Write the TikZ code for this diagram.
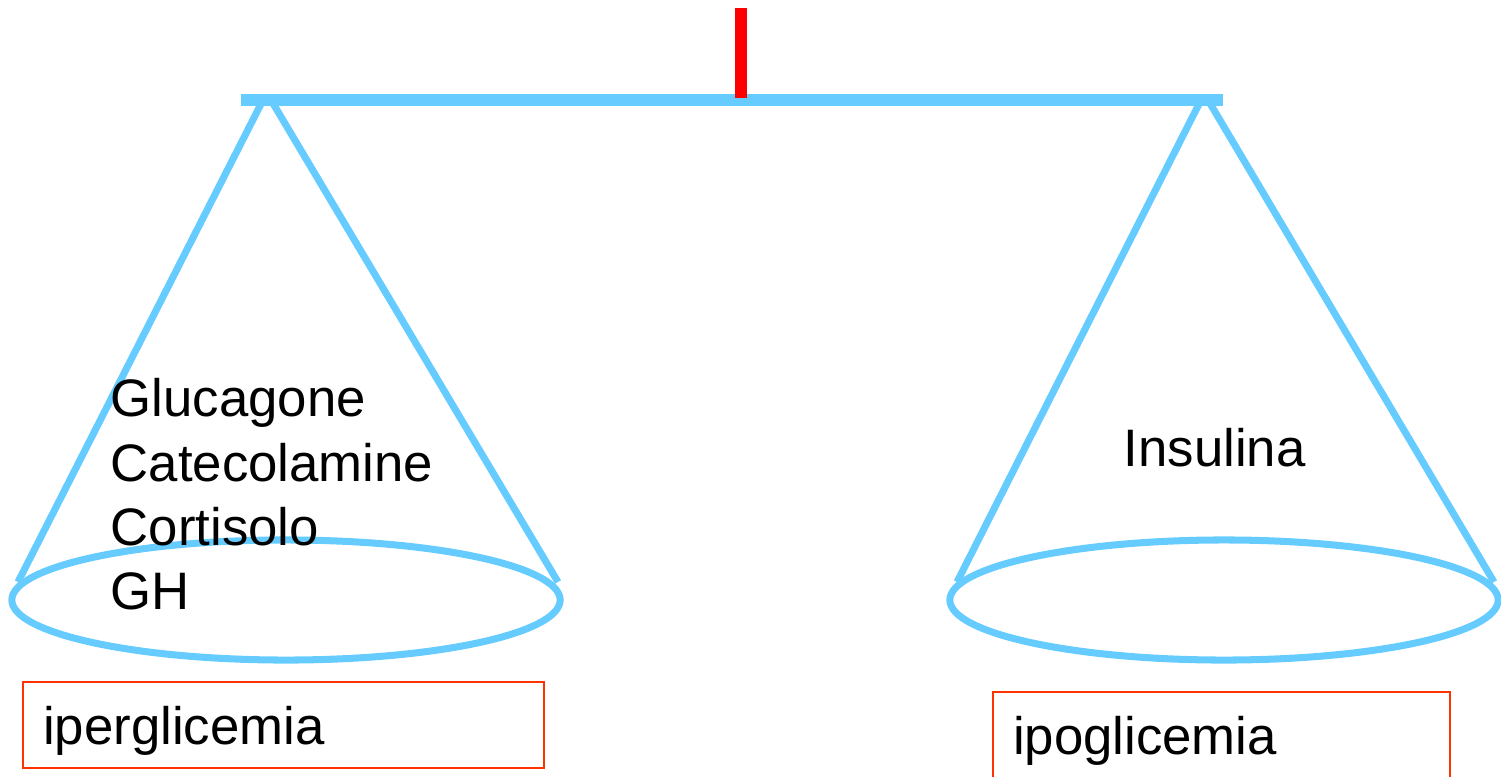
\documentclass[tikz,border=0pt]{standalone}
\usepackage{fontspec}
\setmainfont{Liberation Sans}
\usetikzlibrary{positioning}
\definecolor{scalablue}{HTML}{66CCFF}
\definecolor{boxred}{HTML}{FF3300}

\begin{document}
\begin{tikzpicture}[x=0.01cm, y=-0.01cm,
  beam/.style={draw=scalablue, line width=3.3pt},
  cord/.style={draw=scalablue, line width=2pt},
  pan/.style={draw=scalablue, line width=2pt},
  hormones/.style={font=\fontsize{15}{18.2}\selectfont, inner sep=0pt, align=left},
  esito/.style={draw=boxred, line width=0.6pt, anchor=north west, inner xsep=0.2cm,
                text depth=0pt, font=\fontsize{15}{18.2}\selectfont, align=left}]

  \useasboundingbox (0,0) rectangle (1501,776);

  % beam and pivot
  \coordinate (beamL) at (241,100);
  \coordinate (beamR) at (1223,100);
  \coordinate (pivotT) at (741,8);
  \coordinate (pivotB) at (741,98);
  \draw[beam] (beamL) -- (beamR);
  \draw[red, line width=3.4pt] (pivotT) -- (pivotB);

  % left pan
  \coordinate (lhookA) at (263,100);
  \coordinate (lhookB) at (271,100);
  \coordinate (lrimA)  at (18,582);
  \coordinate (lrimB)  at (558,582);
  \coordinate (lpan)   at (286,600);
  \draw[cord] (lhookA) -- (lrimA);
  \draw[cord] (lhookB) -- (lrimB);
  \draw[pan] (lpan) ellipse [x radius=2.74cm, y radius=0.6cm];

  % right pan
  \coordinate (rhookA) at (1201,100);
  \coordinate (rhookB) at (1208,100);
  \coordinate (rrimA)  at (957,582);
  \coordinate (rrimB)  at (1494,582);
  \coordinate (rpan)   at (1224,600);
  \draw[cord] (rhookA) -- (rrimA);
  \draw[cord] (rhookB) -- (rrimB);
  \draw[pan] (rpan) ellipse [x radius=2.74cm, y radius=0.6cm];

  \node[hormones, anchor=base west] (horm) at (110,609)
    {Glucagone\\Catecolamine\\Cortisolo\\GH};
  \node[hormones, anchor=base west] (ins) at (1123,466) {Insulina};

  \node[esito, text width=4.81cm, minimum height=0.86cm] (iper) at (22,681) {iperglicemia};
  \node[esito, text width=4.17cm, minimum height=0.86cm] (ipo)  at (992,691) {ipoglicemia};
\end{tikzpicture}
\end{document}
